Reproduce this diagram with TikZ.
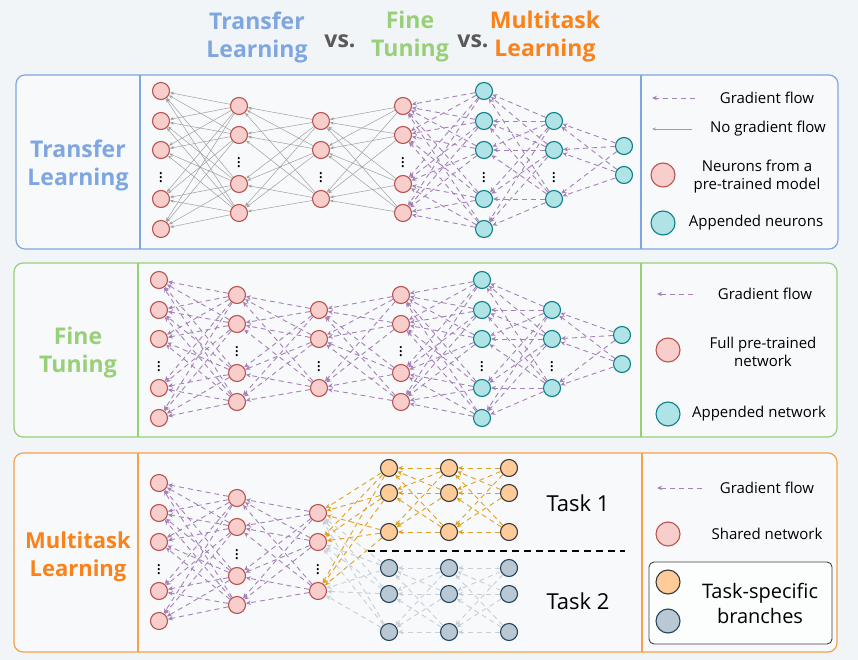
\documentclass[tikz,border=0pt]{standalone}
\usepackage{fontspec}
\setmainfont{Open Sans}
\usetikzlibrary{arrows.meta}
\definecolor{pagebg}{HTML}{F2F5F8}
\definecolor{boxbg}{HTML}{F7F9FB}
\definecolor{tlblue}{HTML}{7EA6E0}
\definecolor{ftgreen}{HTML}{97D077}
\definecolor{mtorange}{HTML}{FA8219}
\definecolor{mtline}{HTML}{F4A14A}
\definecolor{redfill}{HTML}{F8CECC}
\definecolor{reddraw}{HTML}{B85450}
\definecolor{tealfill}{HTML}{B0E3E6}
\definecolor{tealdraw}{HTML}{0E8088}
\definecolor{orfill}{HTML}{FFCC99}
\definecolor{ordraw}{HTML}{36393D}
\definecolor{gyfill}{HTML}{BAC8D3}
\definecolor{gydraw}{HTML}{23445D}
\definecolor{gradcol}{HTML}{A680B8}
\definecolor{orarrow}{HTML}{E0A020}
\definecolor{gyarrow}{HTML}{C6CFD7}
\begin{document}
\begin{tikzpicture}[x=1pt,y=-1pt,
  redn/.style={circle,draw=reddraw,fill=redfill,line width=1.1pt,minimum size=17pt,inner sep=0pt},
  tealn/.style={circle,draw=tealdraw,fill=tealfill,line width=1.1pt,minimum size=17pt,inner sep=0pt},
  orn/.style={circle,draw=ordraw,fill=orfill,line width=1.1pt,minimum size=17pt,inner sep=0pt},
  gyn/.style={circle,draw=gydraw,fill=gyfill,line width=1.1pt,minimum size=17pt,inner sep=0pt},
  grad/.style={draw=gradcol,line width=0.9pt,dash pattern=on 5pt off 4pt,-{Stealth[length=5pt,width=4.5pt]}},
  orgrad/.style={grad,draw=orarrow},
  gygrad/.style={grad,draw=gyarrow},
  nograd/.style={draw=gray!75,line width=0.5pt,-{Stealth[length=4pt,width=3pt]}},
  vdot/.style={inner sep=0pt,font=\fontsize{17}{17}\selectfont},
  legtxt/.style={align=center,font=\fontsize{15}{18}\selectfont},
  bigtxt/.style={align=center,font=\fontsize{23}{28}\selectfont\bfseries},
  panel/.style={rounded corners=9pt,line width=1.2pt,fill=boxbg}]
\fill[pagebg] (0,0) rectangle (858,660);
\useasboundingbox (0,0) rectangle (858,660);

\node[bigtxt,text=tlblue] (title1) at (257,37) {Transfer\\Learning};
\node[bigtxt,text=black!65] (vs1) at (340,41) {vs.};
\node[bigtxt,text=ftgreen] (title2) at (410,37) {Fine\\Tuning};
\node[bigtxt,text=black!65] (vs2) at (473,41) {vs.};
\node[bigtxt,text=mtorange] (title3) at (545,37) {Multitask\\Learning};

\draw[panel,draw=tlblue] (16,75) rectangle (838,249);
\draw[tlblue,line width=1.2pt] (140,75) -- (140,249) (641,75) -- (641,249);
\draw[panel,draw=ftgreen] (14,263) rectangle (837,437);
\draw[ftgreen,line width=1.2pt] (138,263) -- (138,437) (641,263) -- (641,437);
\draw[panel,draw=mtline] (14,453) rectangle (837,652);
\draw[mtline,line width=1.2pt] (138,453) -- (138,652) (642,453) -- (642,652);

\node[bigtxt,text=tlblue] (lab1) at (78,165) {Transfer\\Learning};
\node[bigtxt,text=ftgreen] (lab2) at (78,353) {Fine\\Tuning};
\node[bigtxt,text=mtorange,font=\fontsize{22}{28}\selectfont\bfseries] (lab3) at (78,557) {Multitask\\Learning};

% transfer learning
\foreach \y [count=\i] in {91,121,150,199,229} \node[redn] (t1\i) at (161,\y) {};
\foreach \y [count=\i] in {106,135,184,213} \node[redn] (t2\i) at (239,\y) {};
\foreach \y [count=\i] in {121,150,199} \node[redn] (t3\i) at (321,\y) {};
\foreach \y [count=\i] in {106,135,184,213} \node[redn] (t4\i) at (403,\y) {};
\foreach \y [count=\i] in {91,121,150,199,229} \node[tealn] (t5\i) at (484,\y) {};
\foreach \y [count=\i] in {121,150,199} \node[tealn] (t6\i) at (554,\y) {};
\foreach \y [count=\i] in {146,175} \node[tealn] (t7\i) at (624,\y) {};
\node[vdot] (td1) at (161,175) {$\vdots$};
\node[vdot] (td2) at (239,160) {$\vdots$};
\node[vdot] (td3) at (321,175) {$\vdots$};
\node[vdot] (td4) at (403,160) {$\vdots$};
\node[vdot] (td5) at (484,175) {$\vdots$};
\node[vdot] (td6) at (554,175) {$\vdots$};
\foreach \i in {1,...,5} \foreach \j in {1,...,4} \draw[nograd] (t2\j) -- (t1\i);
\foreach \i in {1,...,4} \foreach \j in {1,...,3} \draw[nograd] (t3\j) -- (t2\i);
\foreach \i in {1,...,3} \foreach \j in {1,...,4} \draw[nograd] (t4\j) -- (t3\i);
\foreach \i in {1,...,4} \foreach \j in {1,...,5} \draw[grad] (t5\j) -- (t4\i);
\foreach \i in {1,...,5} \foreach \j in {1,...,3} \draw[grad] (t6\j) -- (t5\i);
\foreach \i in {1,...,3} \foreach \j in {1,2} \draw[grad] (t7\j) -- (t6\i);

\coordinate (tga) at (695,98); \coordinate (tgb) at (652,98);
\draw[grad] (tga) -- (tgb);
\node[legtxt] (tgl) at (767,98) {Gradient flow};
\coordinate (tna) at (692,129); \coordinate (tnb) at (652,129);
\draw[nograd] (tna) -- (tnb);
\node[legtxt] (tnl) at (768,129) {No gradient flow};
\node[redn,minimum size=24pt] (tr) at (663,175) {};
\node[legtxt] (trl) at (757,177) {Neurons from a\\pre-trained model};
\node[tealn,minimum size=24pt] (tt) at (663,223) {};
\node[legtxt] (ttl) at (756,223) {Appended neurons};

% fine tuning
\foreach \y [count=\i] in {280,310,339,388,418} \node[redn] (f1\i) at (159,\y) {};
\foreach \y [count=\i] in {295,324,373,402} \node[redn] (f2\i) at (237,\y) {};
\foreach \y [count=\i] in {310,339,388} \node[redn] (f3\i) at (319,\y) {};
\foreach \y [count=\i] in {295,324,373,402} \node[redn] (f4\i) at (401,\y) {};
\foreach \y [count=\i] in {280,310,339,388,418} \node[tealn] (f5\i) at (482,\y) {};
\foreach \y [count=\i] in {310,339,388} \node[tealn] (f6\i) at (552,\y) {};
\foreach \y [count=\i] in {335,364} \node[tealn] (f7\i) at (622,\y) {};
\node[vdot] (fd1) at (159,364) {$\vdots$};
\node[vdot] (fd2) at (237,349) {$\vdots$};
\node[vdot] (fd3) at (319,364) {$\vdots$};
\node[vdot] (fd4) at (401,349) {$\vdots$};
\node[vdot] (fd5) at (482,364) {$\vdots$};
\node[vdot] (fd6) at (552,364) {$\vdots$};
\foreach \i in {1,...,5} \foreach \j in {1,...,4} \draw[grad] (f2\j) -- (f1\i);
\foreach \i in {1,...,4} \foreach \j in {1,...,3} \draw[grad] (f3\j) -- (f2\i);
\foreach \i in {1,...,3} \foreach \j in {1,...,4} \draw[grad] (f4\j) -- (f3\i);
\foreach \i in {1,...,4} \foreach \j in {1,...,5} \draw[grad] (f5\j) -- (f4\i);
\foreach \i in {1,...,5} \foreach \j in {1,...,3} \draw[grad] (f6\j) -- (f5\i);
\foreach \i in {1,...,3} \foreach \j in {1,2} \draw[grad] (f7\j) -- (f6\i);

\coordinate (fga) at (693,294); \coordinate (fgb) at (657,294);
\draw[grad] (fga) -- (fgb);
\node[legtxt] (fgl) at (765,294) {Gradient flow};
\node[redn,minimum size=24pt] (fr) at (668,350) {};
\node[legtxt] (frl) at (763,352) {Full pre-trained\\network};
\node[tealn,minimum size=24pt] (ft) at (668,414) {};
\node[legtxt] (ftl) at (759,414) {Appended network};

% multitask learning
\foreach \y [count=\i] in {483,513,542,591,621} \node[redn] (m1\i) at (159,\y) {};
\foreach \y [count=\i] in {498,527,576,605} \node[redn] (m2\i) at (237,\y) {};
\foreach \y [count=\i] in {513,542,591} \node[redn] (m3\i) at (318,\y) {};
\foreach \x [count=\k] in {389,449,509} {
  \foreach \y [count=\i] in {468,493,532} \node[orn] (mo\k\i) at (\x,\y) {};
  \foreach \y [count=\i] in {568,594,632} \node[gyn] (mg\k\i) at (\x,\y) {};
}
\node[vdot] (md1) at (159,567) {$\vdots$};
\node[vdot] (md2) at (237,552) {$\vdots$};
\node[vdot] (md3) at (318,567) {$\vdots$};
\foreach \i in {1,...,5} \foreach \j in {1,...,4} \draw[grad] (m2\j) -- (m1\i);
\foreach \i in {1,...,4} \foreach \j in {1,...,3} \draw[grad] (m3\j) -- (m2\i);
\foreach \i in {1,2,3} \foreach \j in {1,2,3} {
  \draw[gygrad] (mg1\j) -- (m3\i);
  \draw[gygrad] (mg2\j) -- (mg1\i);
  \draw[gygrad] (mg3\j) -- (mg2\i);
}
\foreach \i in {1,2,3} \foreach \j in {1,2,3} {
  \draw[orgrad] (mo1\j) -- (m3\i);
  \draw[orgrad] (mo2\j) -- (mo1\i);
  \draw[orgrad] (mo3\j) -- (mo2\i);
}
\coordinate (sepa) at (368,551); \coordinate (sepb) at (625,551);
\draw[black,line width=1.6pt,dash pattern=on 7pt off 5pt] (sepa) -- (sepb);
\node[font=\fontsize{22}{26}\selectfont] (task1) at (578,503) {Task 1};
\node[font=\fontsize{22}{26}\selectfont] (task2) at (578,601) {Task 2};

\coordinate (mga) at (702,488); \coordinate (mgb) at (657,488);
\draw[grad] (mga) -- (mgb);
\node[legtxt] (mgl) at (767,488) {Gradient flow};
\node[redn,minimum size=24pt] (mr) at (668,534) {};
\node[legtxt] (mrl) at (767,534) {Shared network};
\draw[rounded corners=5pt,draw=black!75,fill=white!60!boxbg,line width=0.9pt] (649,562) rectangle (832,644);
\node[orn,minimum size=24pt] (mo) at (668,582) {};
\node[gyn,minimum size=24pt] (mg) at (668,621) {};
\node[align=center,font=\fontsize{20}{25}\selectfont] (mol) at (760,603) {Task-specific\\branches};
\end{tikzpicture}
\end{document}
